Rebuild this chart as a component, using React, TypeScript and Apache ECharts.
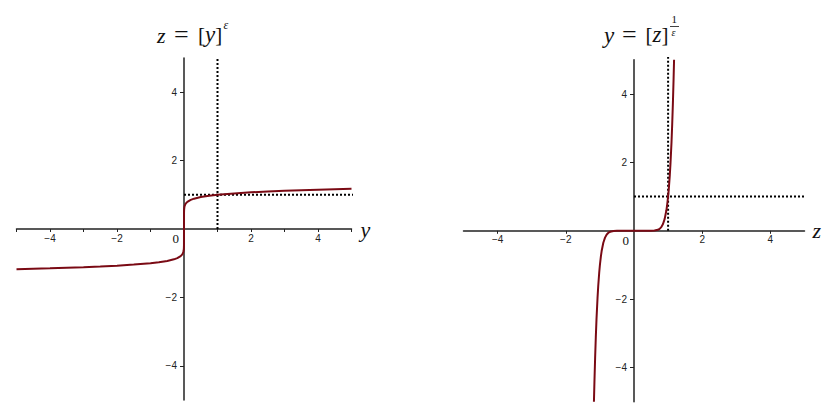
import React, { useEffect, useRef } from 'react';
import * as echarts from 'echarts';

// Left panel: z = [y]^eps  (y, z) pairs
const leftY = [-5, -4.5, -4, -3.5, -3, -2.5, -2, -1.5, -1, -0.75, -0.5, -0.3, -0.2, -0.1, -0.05, -0.02, -0.01, -0.003, -0.0005, 0,
  0.0005, 0.003, 0.01, 0.02, 0.05, 0.1, 0.2, 0.3, 0.5, 0.75, 1, 1.5, 2, 2.5, 3, 3.5, 4, 4.5, 5];
const leftZ = [-1.175, -1.162, -1.149, -1.133, -1.116, -1.096, -1.072, -1.041, -1, -0.972, -0.933, -0.887, -0.851, -0.794, -0.741, -0.676, -0.631, -0.559, -0.468, 0,
  0.468, 0.559, 0.631, 0.676, 0.741, 0.794, 0.851, 0.887, 0.933, 0.972, 1, 1.041, 1.072, 1.096, 1.116, 1.133, 1.149, 1.162, 1.175];

// Right panel: y = [z]^(1/eps)
const rightZ = [-1.175, -1.16, -1.14, -1.12, -1.1, -1.07, -1.05, -1.02, -1, -0.97, -0.95, -0.9, -0.85, -0.8, -0.75, -0.7, -0.6, -0.5, 0,
  0.5, 0.6, 0.7, 0.75, 0.8, 0.85, 0.9, 0.95, 0.97, 1, 1.02, 1.05, 1.07, 1.1, 1.12, 1.14, 1.16, 1.175];
const rightY = [-5, -4.41, -3.71, -3.11, -2.59, -1.97, -1.63, -1.22, -1, -0.74, -0.6, -0.35, -0.2, -0.107, -0.056, -0.028, -0.006, -0.001, 0,
  0.001, 0.006, 0.028, 0.056, 0.107, 0.2, 0.35, 0.6, 0.74, 1, 1.22, 1.63, 1.97, 2.59, 3.11, 3.71, 4.41, 5];

// Reference (dotted) lines
const leftHLine = [[0, 1], [5.15, 1]];
const leftVLine = [[1, 0], [1, 5.03]];
const rightHLine = [[0, 1], [5.15, 1]];
const rightVLine = [[1, 0], [1, 5.08]];

const leftXTicks = [-5, -4, -3, -2, -1, 1, 2, 3, 4, 5];
const leftXLabels = [-4, -2, 2, 4];
const rightXTicks = [-4, -2, 2, 4];
const rightXLabels = [-4, -2, 2, 4];
const yTicks = [-4, -2, 2, 4];
const originLabel = '0';

const curveColor = '#7a0a14';
const axisColor = '#222';
const serif = 'Liberation Serif';

const GRIDS = [
  { left: 16.5, top: 58, width: 335, height: 342 },
  { left: 463.5, top: 59.8, width: 341, height: 342 },
];

const minus = (v: number) => String(v).replace('-', '\u2212');

function makeX(gridIndex: number, name: string, ticks: number[], labels: number[], gap: number) {
  return {
    gridIndex,
    type: 'value',
    min: -5,
    max: 5,
    position: 'bottom',
    offset: -GRIDS[gridIndex].height / 2,
    splitLine: { show: false },
    axisLine: { onZero: false, lineStyle: { color: axisColor, width: 1.5 } },
    axisTick: { customValues: ticks, length: 3, lineStyle: { color: axisColor, width: 1 } },
    axisLabel: {
      customValues: labels,
      formatter: minus,
      margin: 4,
      fontFamily: 'Liberation Sans',
      fontSize: 10,
      color: '#222',
    },
    name,
    nameLocation: 'end',
    nameGap: gap,
    nameTextStyle: { fontFamily: serif, fontStyle: 'italic', fontSize: 22, color: '#111', padding: [0, 0, 4, 0] },
  };
}

function makeY(gridIndex: number) {
  return {
    gridIndex,
    type: 'value',
    min: -5,
    max: 5,
    position: 'left',
    offset: -GRIDS[gridIndex].width / 2,
    splitLine: { show: false },
    axisLine: { onZero: false, lineStyle: { color: axisColor, width: 1.5 } },
    axisTick: { customValues: yTicks, length: 4, lineStyle: { color: axisColor, width: 1 } },
    axisLabel: {
      customValues: yTicks,
      formatter: minus,
      margin: 7,
      fontFamily: 'Liberation Sans',
      fontSize: 10,
      color: '#222',
    },
  };
}

const zip = (a: number[], b: number[]) => a.map((v, i) => [v, b[i]]);

const dotted = (xi: number, data: number[][]) => ({
  type: 'line',
  xAxisIndex: xi,
  yAxisIndex: xi,
  data,
  symbol: 'none',
  clip: false,
  silent: true,
  lineStyle: { color: '#000', width: 2, type: [2, 2] },
});

const txt = (text: string, left: number, top: number, size: number, italic = false) => ({
  type: 'text',
  left,
  top,
  style: { text, fontFamily: serif, fontStyle: italic ? 'italic' : 'normal', fontSize: size, fill: '#111' },
});

const bracket = (v: string, left: number) => ({
  type: 'text',
  left,
  top: 23,
  style: {
    text: `{n|[}{i|${v}}{n|]}`,
    rich: {
      n: { fontFamily: serif, fontSize: 21, fill: '#111', color: '#111' },
      i: { fontFamily: serif, fontStyle: 'italic', fontSize: 23, fill: '#111', color: '#111' },
    },
  },
});

export default function App() {
  const ref = useRef<HTMLDivElement>(null);
  useEffect(() => {
    document.body.style.margin = '0';
    const chart = echarts.init(ref.current!, null, { renderer: 'svg' });
    chart.setOption({
      animation: false,
      backgroundColor: '#fff',
      grid: GRIDS.map((g) => ({ ...g, outerBoundsMode: 'none', containLabel: false })),
      xAxis: [makeX(0, 'y', leftXTicks, leftXLabels, 9), makeX(1, 'z', rightXTicks, rightXLabels, 8)],
      yAxis: [makeY(0), makeY(1)],
      series: [
        dotted(0, leftHLine),
        dotted(0, leftVLine),
        dotted(1, rightHLine),
        dotted(1, rightVLine),
        {
          type: 'line', xAxisIndex: 0, yAxisIndex: 0, data: zip(leftY, leftZ), symbol: 'none',
          lineStyle: { color: curveColor, width: 2 },
        },
        {
          type: 'line', xAxisIndex: 1, yAxisIndex: 1, data: zip(rightZ, rightY), symbol: 'none',
          lineStyle: { color: curveColor, width: 2 },
        },
      ],
    });
    // origin labels placed through the axes' own scales
    const origins = [0, 1].map((gi) => chart.convertToPixel({ gridIndex: gi }, [0, 0]) as number[]);
    chart.setOption({
      graphic: [
        ...origins.map((p) => ({
          type: 'text', x: p[0] - 5, y: p[1] + 3,
          style: { text: originLabel, fontFamily: serif, fontSize: 13, fill: '#111', align: 'right', verticalAlign: 'top' },
        })),
        // left title: z = [y]^ε
        txt('z', 157, 24, 22, true),
        txt('=', 174, 21, 26),
        bracket('y', 198),
        txt('\u03b5', 223.5, 19, 12, true),
        // right title: y = [z]^(1/ε)
        txt('y', 604, 24, 23, true),
        txt('=', 622, 21, 26),
        bracket('z', 645.5),
        txt('1', 671.5, 13, 11),
        { type: 'line', shape: { x1: 670, y1: 26.5, x2: 679, y2: 26.5 }, style: { stroke: '#111', lineWidth: 0.8 } },
        txt('\u03b5', 671.5, 27, 10, true),
      ],
    });
    return () => chart.dispose();
  }, []);
  return <div ref={ref} style={{ width: 831, height: 407 }} />;
}
